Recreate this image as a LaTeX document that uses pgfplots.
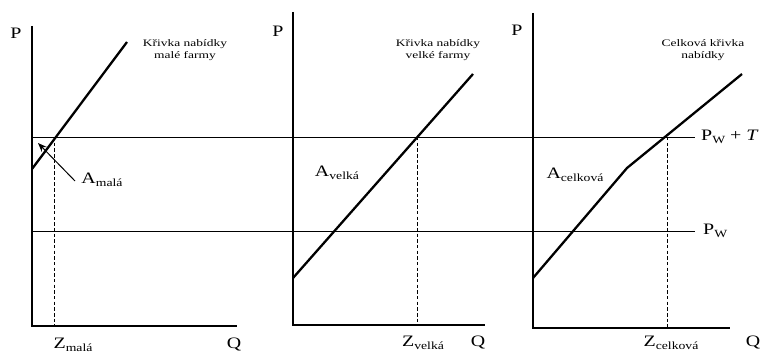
\documentclass[border=0pt]{standalone}
\usepackage{fontspec}
\setmainfont{Liberation Serif}
\usepackage{graphicx}
\usepackage{pgfplots}
\pgfplotsset{compat=1.18}
\usetikzlibrary{arrows.meta}
% the reference text is stretched sideways
\newcommand{\lbl}[1]{\scalebox{1.25}[1]{\fontsize{16}{16}\selectfont #1}}
\newcommand{\sm}[1]{\scalebox{1.35}[1]{\fontsize{10}{12}\selectfont #1}}
\newcommand{\sub}[2]{#1{\fontsize{11}{11}\selectfont\raisebox{-3pt}{#2}}}

\begin{document}
\begin{tikzpicture}
\begin{axis}[scale only axis,width=763bp,height=354bp,
  xmin=0,xmax=763,ymin=0,ymax=354,y dir=reverse,hide axis,clip=false]
% axes of the three panels
\addplot[black,line width=1.4pt] coordinates {(32,26) (32,326) (237,326)};
\addplot[black,line width=1.4pt] coordinates {(293,12) (293,325) (485,325)};
\addplot[black,line width=1.4pt] coordinates {(533,13) (533,328) (730,328)};
% world price with and without the tariff
\addplot[black,line width=1pt] coordinates {(32,137) (695,137)};
\addplot[black,line width=1pt] coordinates {(32,231) (695,231)};
% supply curves
\addplot[black,line width=2.3pt] coordinates {(32,169) (127,42)};
\addplot[black,line width=2.3pt] coordinates {(293,278) (473,74)};
\addplot[black,line width=2.3pt] coordinates {(533,278) (627,168) (742,74)};
% quantities at Pw+T
\addplot[black,line width=1pt,dash pattern=on 3.5pt off 2.2pt] coordinates {(54,137) (54,326)};
\addplot[black,line width=1pt,dash pattern=on 3.5pt off 2.2pt] coordinates {(417,137) (417,325)};
\addplot[black,line width=1pt,dash pattern=on 3.5pt off 2.2pt] coordinates {(667,137) (667,328)};
% arrow to A_mala
\addplot[black,line width=1pt,-{Stealth[length=9pt,width=7pt]}] coordinates {(75,181) (38,143)};

\node at (axis cs:16,33) {\lbl{P}};
\node at (axis cs:278,31) {\lbl{P}};
\node at (axis cs:517,30) {\lbl{P}};
\node at (axis cs:234,345) {\lbl{Q}};
\node at (axis cs:478,343) {\lbl{Q}};
\node at (axis cs:753,343) {\lbl{Q}};
\node at (axis cs:73,345) {\lbl{\sub{Z}{malá}}};
\node at (axis cs:423,343) {\lbl{\sub{Z}{velká}}};
\node at (axis cs:671,343) {\lbl{\sub{Z}{celková}}};
\node at (axis cs:102,180) {\lbl{\sub{A}{malá}}};
\node at (axis cs:337,173) {\lbl{\sub{A}{velká}}};
\node at (axis cs:575,175) {\lbl{\sub{A}{celková}}};
\node[anchor=west,inner sep=0pt] at (axis cs:701,137) {\lbl{\sub{P}{W} + \textit{T}}};
\node[anchor=west,inner sep=0pt] at (axis cs:703,231) {\lbl{\sub{P}{W}}};
\node[align=center,inner sep=0pt] at (axis cs:185,50) {\sm{Křivka nabídky}\\\sm{malé farmy}};
\node[align=center,inner sep=0pt] at (axis cs:438,50) {\sm{Křivka nabídky}\\\sm{velké farmy}};
\node[align=center,inner sep=0pt] at (axis cs:703,50) {\sm{Celková křivka}\\\sm{nabídky}};
\end{axis}
\pgfresetboundingbox
\path[use as bounding box] (current axis.south west) rectangle (current axis.north east);
\end{tikzpicture}
\end{document}
